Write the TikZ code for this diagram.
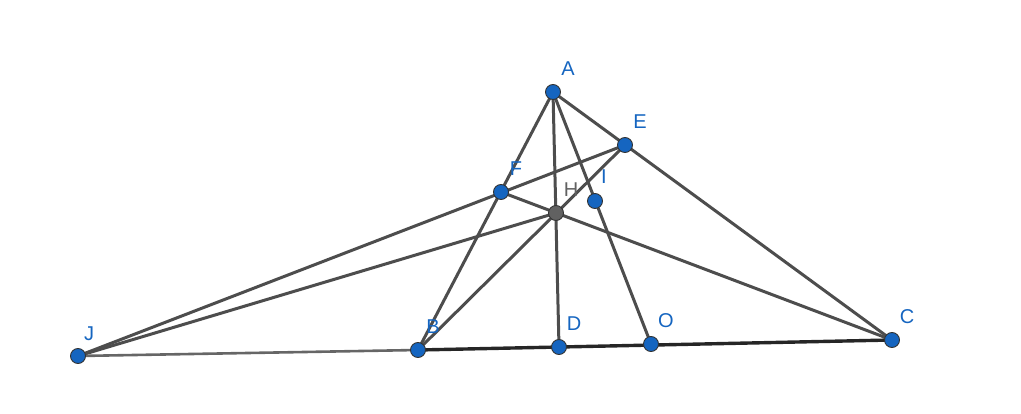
\documentclass[tikz,border=0pt]{standalone}
\usepackage{fontspec}
\setmainfont{Liberation Sans}
\definecolor{ptblue}{HTML}{1565C0}
\definecolor{segcol}{HTML}{4D4D4D}
\definecolor{hgray}{HTML}{616161}
\tikzset{
  seg/.style={segcol,line width=3pt},
  pt/.style={circle,fill=ptblue,draw=black!80,line width=0.9pt,inner sep=0pt,minimum size=15pt},
  lbl/.style={text=ptblue,font=\fontsize{20}{24}\selectfont,xshift=15pt,yshift=23pt}
}

\begin{document}
\begin{tikzpicture}[x=1pt,y=-1pt]
        \useasboundingbox (0,0) rectangle (1021,414);
        \coordinate (A) at (553,92);
        \coordinate (E) at (625,145);
        \coordinate (F) at (501,192);
        \coordinate (H) at (556,213);
        \coordinate (I) at (595,201);
        \coordinate (B) at (418,350);
        \coordinate (D) at (559,347);
        \coordinate (O) at (651,344);
        \coordinate (C) at (892,340);
        \coordinate (J) at (78,356);

        \draw[seg,black!60,line width=2.6pt] (J) -- (B);
        \draw[seg,black!85,line width=3.4pt] (B) -- (C);
        \draw[seg] (A) -- (B);
        \draw[seg] (A) -- (C);
        \draw[seg] (A) -- (D);
        \draw[seg] (A) -- (O);
        \draw[seg] (J) -- (E);
        \draw[seg] (J) -- (H);
        \draw[seg] (F) -- (C);
        \draw[seg] (B) -- (E);

        \node[pt,label={[lbl]center:A}]                 (a) at (A) {};
        \node[pt,label={[lbl]center:E}]                 (e) at (E) {};
        \node[pt,label={[lbl]center:F}]                 (f) at (F) {};
        \node[pt,fill=hgray,label={[lbl,text=hgray]center:H}] (h) at (H) {};
        \node[pt,label={[lbl,xshift=-6pt,yshift=1pt]center:I}] (i) at (I) {};
        \node[pt,label={[lbl]center:B}]                 (b) at (B) {};
        \node[pt,label={[lbl]center:D}]                 (d) at (D) {};
        \node[pt,label={[lbl]center:O}]                 (o) at (O) {};
        \node[pt,label={[lbl]center:C}]                 (c) at (C) {};
        \node[pt,label={[lbl,xshift=-4pt,yshift=-1pt]center:J}] (j) at (J) {};
\end{tikzpicture}
\end{document}
